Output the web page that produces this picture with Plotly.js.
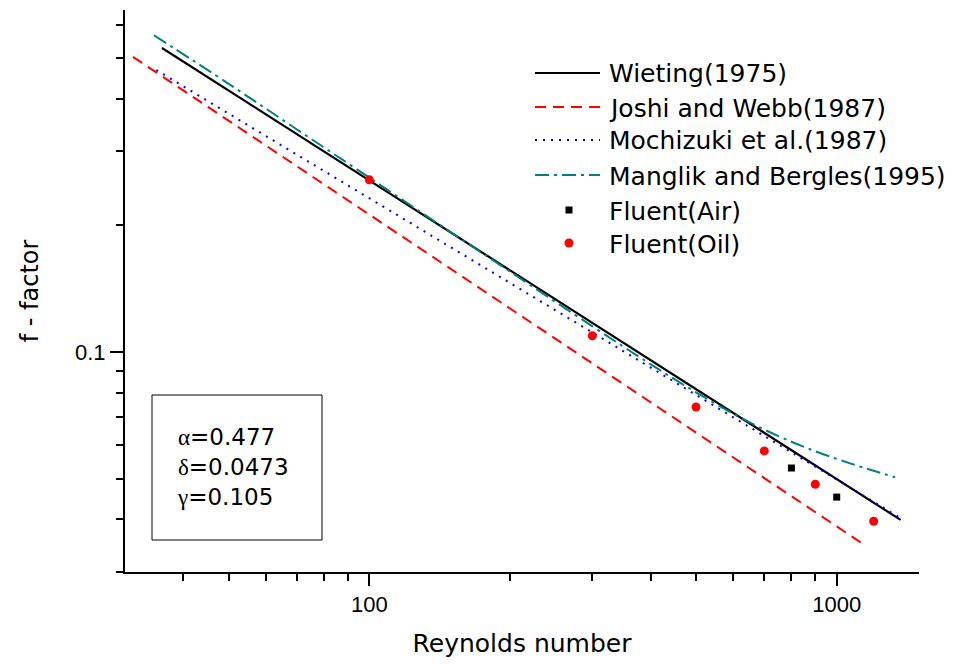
<!DOCTYPE html>
<html>
<head>
<meta charset="utf-8">
<script src="https://cdn.plot.ly/plotly-3.0.1.min.js"></script>
<style>html,body{margin:0;padding:0;background:#fff;}#chart{width:960px;height:664px;}</style>
</head>
<body>
<div id="chart"></div>
<script>
// Wieting (1975)
var wietingRe = [36, 100, 300, 1000, 1370];
var wietingF  = [0.528, 0.2556, 0.117, 0.0497, 0.0399];
// Joshi and Webb (1987)
var joshiRe = [31.2, 100, 300, 1000, 1155];
var joshiF  = [0.503, 0.2122, 0.0940, 0.0385, 0.0346];
// Mochizuki et al. (1987)
var mochiRe = [35, 100, 300, 1000, 1370];
var mochiF  = [0.468, 0.232, 0.1113, 0.0497, 0.0403];
// Manglik and Bergles (1995)
var mangRe = [34.6, 50, 70, 100, 150, 200, 300, 400, 500, 600, 700, 800, 900, 1000, 1100, 1200, 1333];
var mangF  = [0.566, 0.434, 0.338, 0.2597, 0.1921, 0.1553, 0.1151, 0.0935, 0.0802, 0.0714, 0.0654, 0.0612, 0.0581, 0.0557, 0.0538, 0.0522, 0.0504];
// Fluent results
var airRe = [800, 1000];
var airF  = [0.0530, 0.0452];
var oilRe = [100, 300, 500, 700, 900, 1200];
var oilF  = [0.2566, 0.1093, 0.0740, 0.0582, 0.0485, 0.0396];

var seriesNames = ['Wieting(1975)', 'Joshi and Webb(1987)', 'Mochizuki et al.(1987)', 'Manglik and Bergles(1995)', 'Fluent(Air)', 'Fluent(Oil)'];
var xTickVals = [100, 1000];
var xTickText = ['100', '1000'];
var yTickVals = [0.1];
var yTickText = ['0.1'];
var xMinor = [40,50,60,70,80,90,200,300,400,500,600,700,800,900];
var yMinor = [0.03,0.04,0.05,0.06,0.07,0.08,0.09,0.2,0.3,0.4,0.5,0.6];

var TICKFONT = 'Arial, "Liberation Sans", sans-serif';
var FONT = '"DejaVu Sans", Arial, sans-serif';

var styles = [
  {color: '#000000', width: 2.2, dash: 'solid'},
  {color: '#ff0000', width: 2, dash: '11px,7px'},
  {color: '#0000ff', width: 2, dash: '2px,6px'},
  {color: '#008080', width: 2, dash: '14px,5px,3px,5px'}
];

var traces = [
  {x: wietingRe, y: wietingF, mode: 'lines', name: seriesNames[0], line: styles[0]},
  {x: joshiRe, y: joshiF, mode: 'lines', name: seriesNames[1], line: styles[1]},
  {x: mochiRe, y: mochiF, mode: 'lines', name: seriesNames[2], line: styles[2]},
  {x: mangRe, y: mangF, mode: 'lines', name: seriesNames[3], line: Object.assign({shape: 'spline'}, styles[3])},
  {x: airRe, y: airF, mode: 'markers', name: seriesNames[4], marker: {symbol: 'square', size: 7, color: '#000000'}},
  {x: oilRe, y: oilF, mode: 'markers', name: seriesNames[5], marker: {symbol: 'circle', size: 9, color: '#ff0000'}}
];

// manual legend (paper coordinates of the plot area)
var L = 125, R = 919, T = 10, B = 572;
function px(x) { return (x - L) / (R - L); }
function py(y) { return (B - y) / (B - T); }
var rowsY = [73, 107, 140, 175, 210, 243];

var shapes = [
  {type: 'rect', xref: 'paper', yref: 'paper', x0: px(152), x1: px(322), y0: py(540), y1: py(395),
   line: {color: '#000', width: 1}, fillcolor: 'rgba(0,0,0,0)'}
];
var annotations = [
  {xref: 'paper', yref: 'paper', x: px(175), y: py(467), xanchor: 'left', yanchor: 'middle', align: 'left', showarrow: false,
   text: '<span style="font-family:\'Liberation Serif\',serif">α</span>=0.477<br><span style="font-family:\'Liberation Serif\',serif">δ</span>=0.0473<br><span style="font-family:\'Liberation Serif\',serif">γ</span>=0.105',
   font: {family: FONT, size: 23, color: '#000'}}
];
for (var i = 0; i < 4; i++) {
  shapes.push({type: 'line', xref: 'paper', yref: 'paper', x0: px(535), x1: px(600), y0: py(rowsY[i]), y1: py(rowsY[i]),
               line: styles[i]});
}
shapes.push({type: 'rect', xref: 'paper', yref: 'paper', x0: px(565.5), x1: px(572.5), y0: py(rowsY[4] + 3.5), y1: py(rowsY[4] - 3.5),
             line: {width: 0}, fillcolor: '#000000'});
shapes.push({type: 'circle', xref: 'paper', yref: 'paper', x0: px(564.5), x1: px(573.5), y0: py(rowsY[5] + 4.5), y1: py(rowsY[5] - 4.5),
             line: {width: 0}, fillcolor: '#ff0000'});
for (var j = 0; j < seriesNames.length; j++) {
  annotations.push({xref: 'paper', yref: 'paper', x: px(607), y: py(rowsY[j] + 1), xanchor: 'left', yanchor: 'middle',
                    showarrow: false, text: seriesNames[j], font: {family: FONT, size: 25, color: '#000'}});
}

var layout = {
  width: 960, height: 664,
  margin: {l: L, r: 960 - R, t: T, b: 664 - B},
  paper_bgcolor: '#ffffff', plot_bgcolor: '#ffffff',
  font: {family: FONT, color: '#000000', size: 22},
  showlegend: false,
  xaxis: {
    type: 'log', range: [Math.log10(30), Math.log10(1500)],
    showgrid: false, zeroline: false, showline: true, linecolor: '#000', linewidth: 2,
    ticks: 'outside', ticklen: 12, tickwidth: 2, tickcolor: '#000',
    tickmode: 'array', tickvals: xTickVals, ticktext: xTickText,
    tickfont: {family: TICKFONT, size: 22},
    minor: {tickmode: 'array', tickvals: xMinor, ticks: 'outside', ticklen: 7, tickwidth: 2, tickcolor: '#000', showgrid: false},
    title: {text: 'Reynolds number', font: {family: FONT, size: 25}, standoff: 18},
    mirror: false
  },
  yaxis: {
    type: 'log', range: [Math.log10(0.03), Math.log10(0.65)],
    showgrid: false, zeroline: false, showline: true, linecolor: '#000', linewidth: 2,
    ticks: 'outside', ticklen: 13, tickwidth: 2, tickcolor: '#000',
    tickmode: 'array', tickvals: yTickVals, ticktext: yTickText,
    tickfont: {family: TICKFONT, size: 22},
    minor: {tickmode: 'array', tickvals: yMinor, ticks: 'outside', ticklen: 7, tickwidth: 2, tickcolor: '#000', showgrid: false},
    title: {text: 'f - factor', font: {family: FONT, size: 24}, standoff: 30},
    mirror: false
  },
  shapes: shapes,
  annotations: annotations
};

Plotly.newPlot('chart', traces, layout, {displayModeBar: false, staticPlot: true});
</script>
</body>
</html>
